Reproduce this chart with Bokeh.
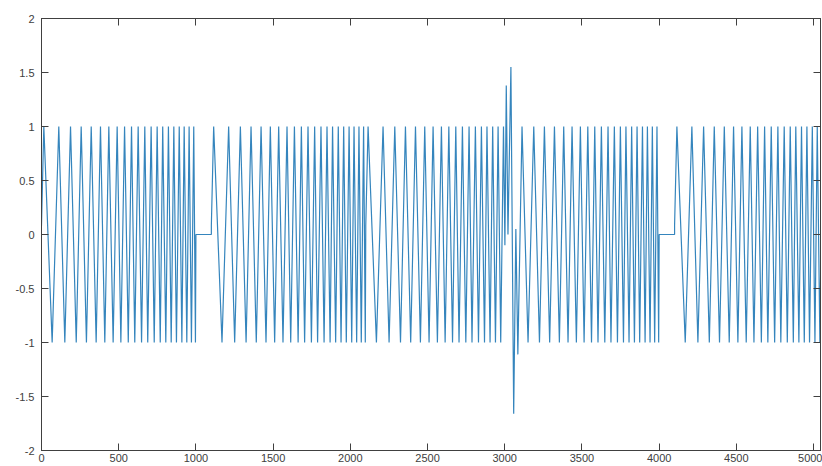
from bokeh.plotting import figure
from bokeh.models import LinearAxis, FixedTicker, Range1d
from bokeh.embed import file_html
from bokeh.resources import INLINE

# One chirp sweep: sample positions of its alternating crests and troughs,
# measured from the start of the sweep, and the level at each of them.
sweep_ext_x = [15, 69, 112, 151, 188, 225, 257, 291, 322, 354, 382, 410, 436, 464,
               490, 514, 538, 562, 583, 604, 626, 648, 669, 688, 710, 730, 749, 769,
               785, 805, 822, 840, 857, 874, 892, 909, 924, 941, 956, 971, 986, 997]
sweep_ext_y = [1, -1, 1, -1, 1, -1, 1, -1, 1, -1, 1, -1, 1, -1,
               1, -1, 1, -1, 1, -1, 1, -1, 1, -1, 1, -1, 1, -1,
               1, -1, 1, -1, 1, -1, 1, -1, 1, -1, 1, -1, 1, -1]
sweep_start_y = 0.08

# Placement of each sweep in the record and the part of it that is kept
sweep_offset = [0, 1100, 2100, 3000, 4100]
sweep_keep_from = [0, 0, 0, 100, 0]
sweep_keep_to = [1000, 1000, 900, 1000, 1000]

# Dropouts where the signal is held at zero
gap_start = [1000, 4000]
gap_end = [1100, 4100]

# Transient burst between the third and fourth sweeps
burst_x = [3001, 3010, 3021, 3040, 3058, 3072, 3085]
burst_y = [-0.1, 1.38, 0.0, 1.55, -1.66, 0.05, -1.11]

# Axis ticks
x_ticks = [0, 500, 1000, 1500, 2000, 2500, 3000, 3500, 4000, 4500, 5000]
x_tick_labels = ["0", "500", "1000", "1500", "2000", "2500", "3000", "3500", "4000", "4500", "5000"]
y_ticks = [-2, -1.5, -1, -0.5, 0, 0.5, 1, 1.5, 2]
y_tick_labels = ["-2", "-1.5", "-1", "-0.5", "0", "0.5", "1", "1.5", "2"]


def sweep(i):
    off, lo, hi = sweep_offset[i], sweep_keep_from[i], sweep_keep_to[i]
    xs, ys = [], []
    if lo == 0:
        xs.append(off)
        ys.append(sweep_start_y)
    for ex, ey in zip(sweep_ext_x, sweep_ext_y):
        if lo <= ex <= hi:
            xs.append(off + ex)
            ys.append(ey)
    return xs, ys


def gap(i):
    return [gap_start[i], gap_end[i]], [0, 0]


parts = [sweep(0), gap(0), sweep(1), sweep(2), (burst_x, burst_y),
         sweep(3), gap(1), sweep(4)]
sig_x, sig_y = [], []
for xs, ys in parts:
    sig_x += xs
    sig_y += ys

ink = "#404040"
font = "Liberation Sans"

p = figure(width=822, height=466, output_backend="svg", toolbar_location=None,
           x_range=Range1d(0, 5045), y_range=Range1d(-2, 2),
           min_border_left=41, min_border_right=2, min_border_top=18, min_border_bottom=16,
           background_fill_color="white", border_fill_color="white")
p.xgrid.visible = False
p.ygrid.visible = False
p.outline_line_color = ink

p.line(sig_x, sig_y, line_color="#3585bd", line_width=1.2)

xt = FixedTicker(ticks=x_ticks)
yt = FixedTicker(ticks=y_ticks)


def style(ax, ticker, labels=None):
    ax.ticker = ticker
    ax.axis_line_color = ink
    ax.major_tick_line_color = ink
    ax.major_tick_in = 7
    ax.major_tick_out = 0
    ax.minor_tick_line_color = None
    if labels is None:
        # box edges carry tick marks only
        ax.major_label_text_color = None
        ax.major_label_text_font_size = "1px"
        ax.major_label_standoff = 0
    else:
        ax.major_label_overrides = labels
        ax.major_label_text_font = font
        ax.major_label_text_font_size = "11px"
        ax.major_label_text_color = ink


style(p.xaxis[0], xt, dict(zip(x_ticks, x_tick_labels)))
p.xaxis[0].major_label_standoff = 3
style(p.yaxis[0], yt, dict(zip(y_ticks, y_tick_labels)))
p.yaxis[0].major_label_standoff = 7

top = LinearAxis()
style(top, xt)
p.add_layout(top, "above")
right = LinearAxis()
style(right, yt)
p.add_layout(right, "right")

open("out.html", "w").write(file_html(p, INLINE))
